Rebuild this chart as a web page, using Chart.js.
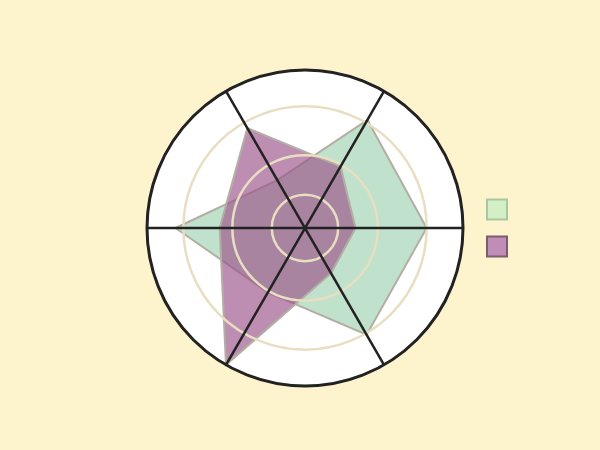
<!DOCTYPE html>
<html><head><meta charset="utf-8">
<script src="https://cdn.jsdelivr.net/npm/chart.js@4/dist/chart.umd.min.js"></script>
<style>html,body{margin:0;padding:0;background:#fdf3cd;} #wrap{width:600px;height:450px;}</style>
</head><body><div id="wrap"><canvas id="c" width="600" height="450"></canvas></div>
<script>
const categories = ['', '', '', '', '', ''];
const seriesNames = ['', ''];
const greenValues = [77, 78, 47, 82, 35, 79];
const purpleValues = [32, 33, 100, 54, 73, 45];
const ringTicks = [0, 21, 46, 77, 100];

const whiteDisc = {
  id: 'whiteDisc',
  beforeDraw(chart) {
    const s = chart.scales.r;
    const ctx = chart.ctx;
    ctx.save();
    ctx.beginPath();
    ctx.arc(s.xCenter, s.yCenter, s.drawingArea, 0, Math.PI * 2);
    ctx.fillStyle = '#ffffff';
    ctx.fill();
    ctx.restore();
  }
};

new Chart(document.getElementById('c'), {
  type: 'radar',
  data: {
    labels: categories,
    datasets: [
      { label: seriesNames[0], data: greenValues, order: 2, backgroundColor: 'rgba(150,205,168,0.6)', borderColor: '#b3aea4', borderWidth: 2, pointRadius: 0, fill: true },
      { label: seriesNames[1], data: purpleValues, order: 1, backgroundColor: 'rgba(155,82,137,0.65)', borderColor: '#b3aea4', borderWidth: 2, pointRadius: 0, fill: true }
    ]
  },
  options: {
    responsive: false,
    animation: false,
    layout: { padding: { top: 70, bottom: 64, left: 140, right: 77 } },
    plugins: {
      tooltip: { enabled: false },
      legend: {
        position: 'right',
        labels: {
          boxWidth: 20, boxHeight: 20, padding: 17,
          generateLabels(chart) {
            const fills = ['#d4efc6', '#bf8db5'];
            const strokes = ['#a9c79f', '#7b5d70'];
            return chart.data.datasets.map((d, i) => ({
              text: d.label, fillStyle: fills[i], strokeStyle: strokes[i], lineWidth: 2, datasetIndex: i, hidden: false
            }));
          }
        }
      }
    },
    scales: {
      r: {
        min: 0, max: 100,
        startAngle: 90,
        afterBuildTicks(scale) { scale.ticks = ringTicks.map(v => ({ value: v })); },
        ticks: { display: false, z: 1 },
        pointLabels: { display: false },
        grid: {
          z: 1,
          circular: true,
          color: c => c.tick && c.tick.value === 100 ? '#222222' : '#e8dfc2',
          lineWidth: c => c.tick && c.tick.value === 100 ? 3 : 2.5
        },
        angleLines: { color: '#222222', lineWidth: 2.5 }
      }
    }
  },
  plugins: [whiteDisc]
});
</script></body></html>
